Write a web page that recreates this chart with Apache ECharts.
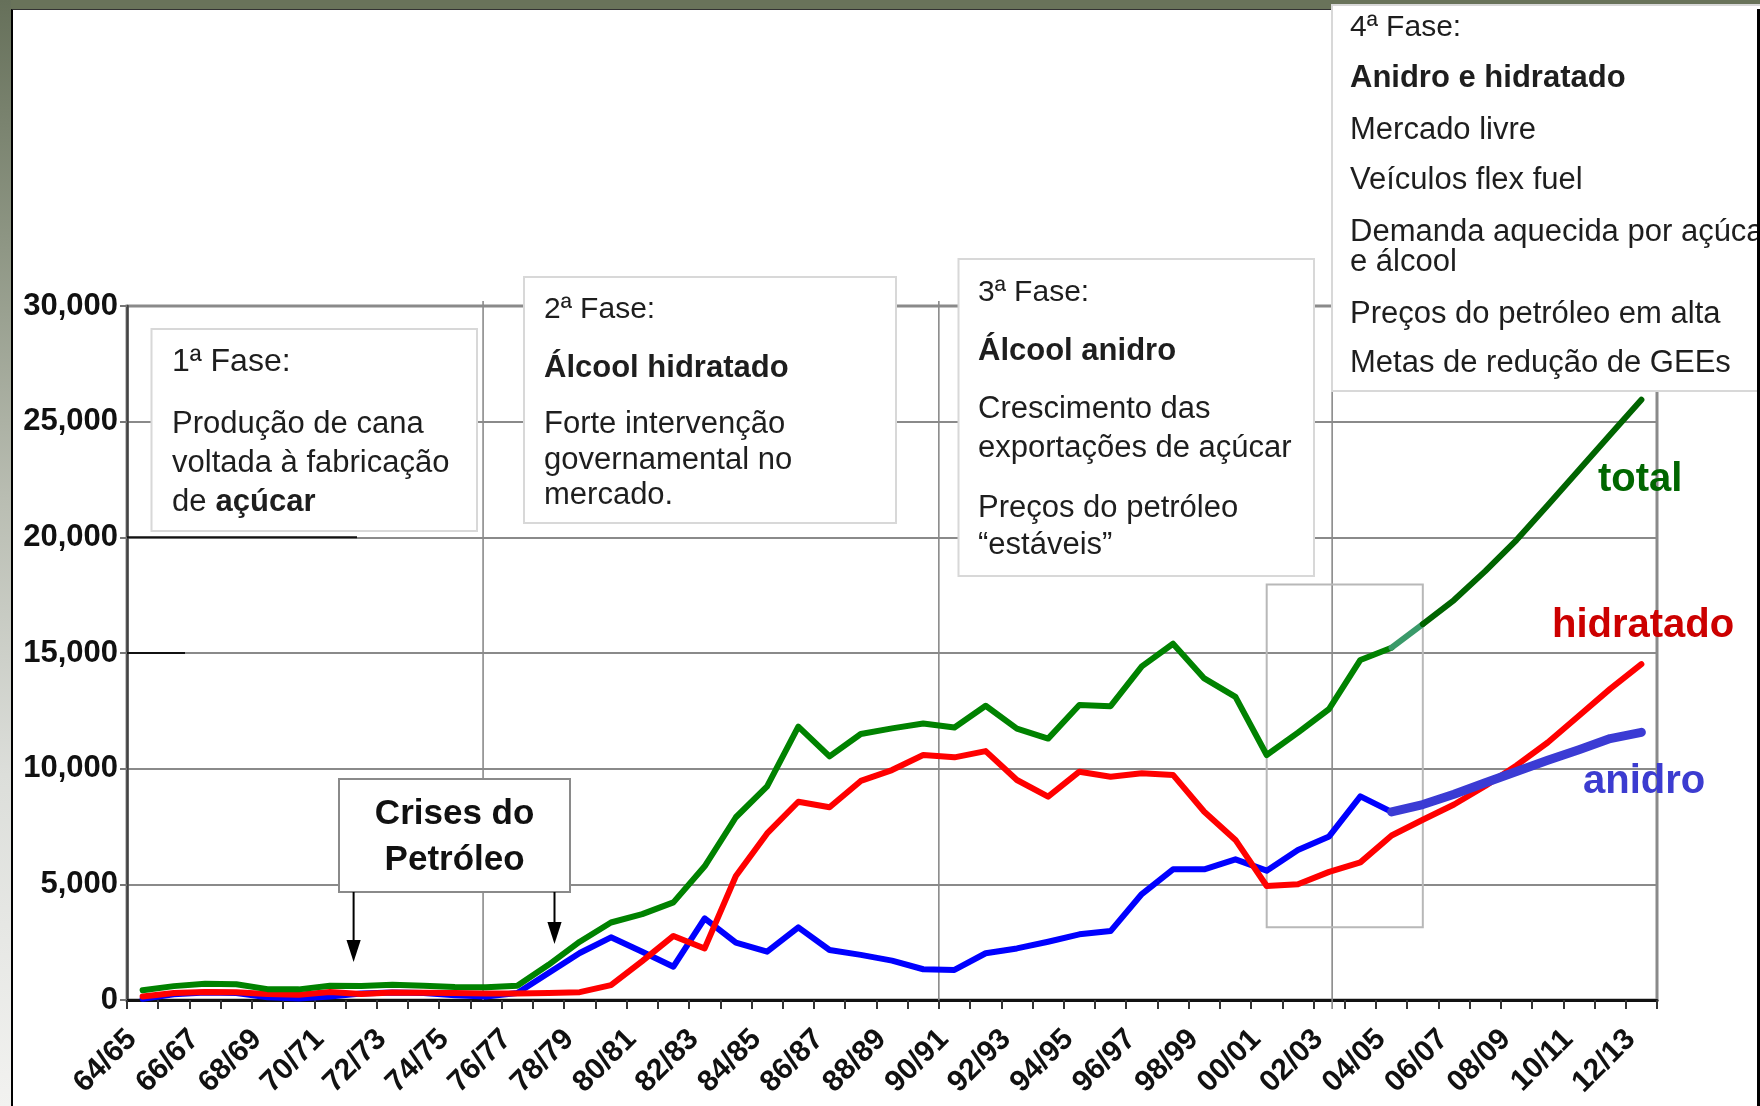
<!DOCTYPE html>
<html><head><meta charset="utf-8">
<script src="https://cdn.jsdelivr.net/npm/echarts@6/dist/echarts.min.js"></script>
<style>
html,body{margin:0;padding:0;width:1760px;height:1106px;overflow:hidden;background:#69735a;}
#left{position:absolute;left:0;top:0;width:11px;height:1106px;background:linear-gradient(to bottom,#66705a 0%,#8e9684 22%,#b9bdb2 45%,#dcdeda 70%,#f2f2f0 100%);}
#panel{position:absolute;left:11px;top:9px;width:1746px;height:1097px;background:#fff;border-left:2px solid #000;border-top:1px solid #333;box-sizing:border-box;}
#rb{position:absolute;left:1757px;top:9px;width:3px;height:1097px;background:#000;z-index:5}
#chart{position:absolute;left:0;top:0;width:1760px;height:1106px;}
</style></head>
<body>
<div id="left"></div><div id="panel"></div>
<div id="chart"></div><div id="rb"></div>
<script>
const categories = ['64/65','65/66','66/67','67/68','68/69','69/70','70/71','71/72','72/73','73/74',
  '74/75','75/76','76/77','77/78','78/79','79/80','80/81','81/82','82/83','83/84',
  '84/85','85/86','86/87','87/88','88/89','89/90','90/91','91/92','92/93','93/94',
  '94/95','95/96','96/97','97/98','98/99','99/00','00/01','01/02','02/03','03/04',
  '04/05','05/06','06/07','07/08','08/09','09/10','10/11','11/12','12/13'];

const total = [420,600,700,680,470,460,620,600,660,620,
  560,550,620,1520,2520,3350,3710,4220,5780,7900,
  9230,11820,10530,11500,11740,11950,11780,12720,11730,11300,
  12750,12700,14420,15400,13900,13100,10590,11560,12580,14700,
  15230,16250,17290,18540,19880,21390,22910,24430,25950];

const hidratado = [150,300,350,330,260,230,350,260,320,310,
  300,280,280,300,340,640,1680,2770,2230,5360,
  7200,8570,8330,9470,9940,10590,10490,10760,9510,8790,
  9870,9650,9800,9730,8140,6920,4930,5000,5540,5950,
  7110,7790,8450,9250,10140,11130,12290,13450,14520];

const anidro = [50,250,320,300,120,60,150,280,320,300,
  200,150,300,1170,2030,2710,2090,1440,3530,2480,
  2090,3140,2160,1950,1700,1330,1300,2020,2230,2520,
  2840,2980,4580,5650,5650,6080,5590,6480,7070,8800,
  8130,8450,8890,9390,9880,10360,10820,11300,11570];

const yTicks = [0,5000,10000,15000,20000,25000,30000];
const PROJ = 40;   // início da projeção (04/05)

const FF = '"Liberation Sans", Arial, sans-serif';
const range = (arr, a, b) => arr.map((v, i) => (i >= a && i <= b) ? v : null);

const chart = echarts.init(document.getElementById('chart'), null, {renderer: 'canvas'});

function line(name, data, color, width, z) {
  return {name, type: 'line', data, symbol: 'none', connectNulls: false, z,
    lineStyle: {color, width, cap: 'round', join: 'round'}, animation: false};
}

chart.setOption({
  backgroundColor: 'transparent',
  animation: false,
  grid: {left: 127, right: 103, top: 306, bottom: 106, show: true, borderColor: '#8a8a8a',
    borderWidth: 3, backgroundColor: 'transparent', containLabel: false, outerBoundsMode: 'none'},
  xAxis: {
    type: 'category', data: categories, boundaryGap: true,
    axisLine: {lineStyle: {color: '#111', width: 3}},
    axisTick: {show: true, interval: 0, length: 9, lineStyle: {color: '#333', width: 2}},
    axisLabel: {interval: 1, rotate: 45, fontSize: 30, fontWeight: 'bold', color: '#111', margin: 24,
      padding: [0, 15, 0, 0], fontFamily: FF},
    splitLine: {show: false}
  },
  yAxis: {
    type: 'value', min: yTicks[0], max: yTicks[yTicks.length - 1], interval: 5000,
    axisLine: {show: true, lineStyle: {color: '#444', width: 2.5}},
    axisTick: {show: true, length: 7, lineStyle: {color: '#777', width: 2}},
    axisLabel: {fontSize: 31, fontWeight: 'bold', color: '#111', margin: 9, fontFamily: FF,
      formatter: v => v.toLocaleString('en-US')},
    splitLine: {show: true, lineStyle: {color: '#8a8a8a', width: 2}}
  },
  series: [
    line('anidro', range(anidro, 0, PROJ), '#0000ff', 6, 3),
    line('hidratado', hidratado, '#ff0000', 6, 4),
    line('total', range(total, 0, PROJ), '#008200', 6, 5),
    line('total-transição', range(total, PROJ, PROJ + 1), '#3a9a6a', 6, 5),
    line('total-projeção', range(total, PROJ + 1, categories.length - 1), '#006400', 6, 5),
    line('anidro-projeção', range(anidro, PROJ, categories.length - 1), '#3b3bd4', 9, 6)
  ]
});

const P = (i, v) => chart.convertToPixel({gridIndex: 0}, [i, v]);
const y0 = P(0, 0)[1], yTop = P(0, 30000)[1], xL = P(0, 0)[0] - 15.6;
const xi = i => P(i, 0)[0];
const yv = v => P(0, v)[1];

function vline(x, y1, y2, color, w, z) {
  return {type: 'line', shape: {x1: x, y1, x2: x, y2}, style: {stroke: color, lineWidth: w}, z: z || 1, silent: true};
}
function hline(x1, x2, y, color, w, z) {
  return {type: 'line', shape: {x1, y1: y, x2, y2: y}, style: {stroke: color, lineWidth: w}, z: z || 1, silent: true};
}
function box(x, y, w, h, stroke, lw) {
  return {type: 'rect', shape: {x, y, width: w, height: h}, style: {fill: '#fff', stroke, lineWidth: lw}, z: 10, silent: true};
}
function txt(x, y, text, size, bold, fill, align) {
  return {type: 'text', x, y, z: 11, silent: true,
    style: {text, fontSize: size, fontFamily: FF, fontWeight: bold ? 'bold' : 'normal', fill: fill || '#1e1e1e',
      verticalAlign: 'middle', align: align || 'left'}};
}

const g = [];
// linhas verticais das fases
g.push(vline(xi(11) - 3, yTop - 5, y0, '#8a8a8a', 1.6));
g.push(vline((xi(25) + xi(26)) / 2, yTop - 5, y0, '#8a8a8a', 1.6));
g.push(vline(xi(38) + 3, 391, y0 + 9, '#8a8a8a', 1.6));
// retângulo cinza (transição)
g.push({type: 'rect', shape: {x: xi(36), y: yv(17960), width: xi(41) - xi(36), height: yv(3150) - yv(17960)},
  style: {fill: 'none', stroke: '#b8b8b8', lineWidth: 2}, z: 1, silent: true});
// segmentos escuros nas linhas de grade
g.push(hline(xL, 357, yv(20000), '#111', 2));
g.push(hline(xL, 185, yv(15000), '#111', 2));

// 1ª fase
g.push(box(151.5, 329, 325.5, 202, '#d8d8d8', 2));
g.push(txt(172, 362, '1ª Fase:', 32));
g.push(txt(172, 424, 'Produção de cana', 31));
g.push(txt(172, 463, 'voltada à fabricação', 31));
g.push(txt(172, 502, 'de ', 31));
g.push(txt(215.5, 502, 'açúcar', 31, true));

// 2ª fase
g.push(box(524, 277, 372, 246, '#d8d8d8', 2));
g.push(txt(544, 310, '2ª Fase:', 30));
g.push(txt(544, 368, 'Álcool hidratado', 31, true));
g.push(txt(544, 424, 'Forte intervenção', 31));
g.push(txt(544, 460, 'governamental no', 31));
g.push(txt(544, 495, 'mercado.', 31));

// 3ª fase
g.push(box(958.5, 259, 355.5, 317, '#d8d8d8', 2));
g.push(txt(978, 293, '3ª Fase:', 30));
g.push(txt(978, 351, 'Álcool anidro', 31, true));
g.push(txt(978, 409.5, 'Crescimento das', 31));
g.push(txt(978, 448, 'exportações de açúcar', 31));
g.push(txt(978, 508, 'Preços do petróleo', 31));
g.push(txt(978, 545, '“estáveis”', 31));

// 4ª fase
g.push(box(1332, 5, 460, 386, '#d8d8d8', 2));
g.push(txt(1350, 28, '4ª Fase:', 30));
g.push(txt(1350, 78, 'Anidro e hidratado', 31, true));
g.push(txt(1350, 130, 'Mercado livre', 31));
g.push(txt(1350, 180.5, 'Veículos flex fuel', 31));
g.push(txt(1350, 232, 'Demanda aquecida por açúcar', 31));
g.push(txt(1350, 262.5, 'e álcool', 31));
g.push(txt(1350, 314, 'Preços do petróleo em alta', 31));
g.push(txt(1350, 363.5, 'Metas de redução de GEEs', 31));

// Crises do Petróleo
g.push(box(339, 779, 231, 113, '#8a8a8a', 2));
g.push(txt(454.6, 814, 'Crises do', 35, true, '#111', 'center'));
g.push(txt(454.6, 860, 'Petróleo', 35, true, '#111', 'center'));
g.push(vline(353.6, 892, 944, '#000', 2, 12));
g.push({type: 'polygon', shape: {points: [[346.5, 940], [360.7, 940], [353.6, 962]]}, style: {fill: '#000'}, z: 12, silent: true});
g.push(vline(554.5, 892, 926, '#000', 2, 12));
g.push({type: 'polygon', shape: {points: [[547.4, 922], [561.6, 922], [554.5, 944]]}, style: {fill: '#000'}, z: 12, silent: true});

// rótulos das séries
g.push(txt(1598, 480, 'total', 40, true, '#006600'));
g.push(txt(1552, 626, 'hidratado', 40, true, '#cc0000'));
g.push(txt(1583, 782, 'anidro', 40, true, '#3c3cd0'));

chart.setOption({graphic: g});
</script>
</body></html>
